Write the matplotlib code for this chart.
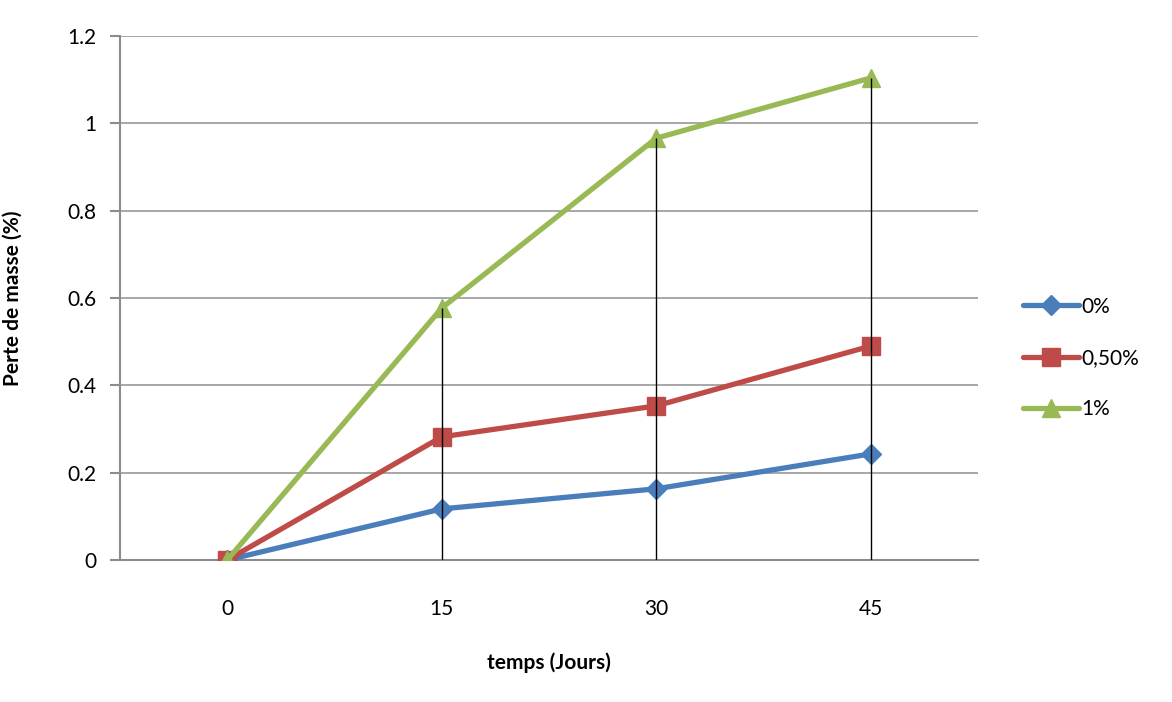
import matplotlib.pyplot as plt

plt.rcParams['font.family'] = ['Lato', 'DejaVu Sans']

days = ['0', '15', '30', '45']
loss_0 = [0.0, 0.117, 0.163, 0.243]
loss_050 = [0.0, 0.282, 0.353, 0.490]
loss_1 = [0.0, 0.577, 0.966, 1.104]
labels = ['0%', '0,50%', '1%']

colors = ['#4a7ebb', '#be4b48', '#98b954']
markers = ['D', 's', '^']
sizes = [10, 13, 13]

fig = plt.figure(figsize=(11.72, 7.02), dpi=100)
ax = fig.add_axes([0.1024, 0.2023, 0.7321, 0.7464])

xs = list(range(len(days)))
series = [loss_0, loss_050, loss_1]
for ys, c, m, ms, lab in zip(series, colors, markers, sizes, labels):
    ax.plot(xs, ys, color=c, lw=3.8, marker=m, ms=ms, label=lab,
            solid_capstyle='round', zorder=3)

# drop lines from the highest series down to the axis
tops = [max(v) for v in zip(*series)]
ax.vlines(xs, 0, tops, color='black', lw=1, zorder=4)

ax.set_xlim(-0.5, 3.5)
ax.set_ylim(0, 1.2)
ax.set_yticks([0, 0.2, 0.4, 0.6, 0.8, 1, 1.2])
ax.set_yticklabels(['0', '0.2', '0.4', '0.6', '0.8', '1', '1.2'])
ax.set_xticks(xs)
ax.set_xticklabels(days)
ax.yaxis.grid(True, color='#a0a0a0', lw=1.3)
ax.set_axisbelow(True)

for s in ['top', 'right']:
    ax.spines[s].set_visible(False)
for s in ['left', 'bottom']:
    ax.spines[s].set_color('#8c8c8c')
    ax.spines[s].set_linewidth(1.5)
ax.tick_params(axis='y', length=7, width=1.5, color='#8c8c8c', labelsize=15, pad=10)
ax.tick_params(axis='x', length=0, labelsize=15, pad=28)

ax.set_xlabel('temps (Jours)', fontsize=15, fontweight='bold', labelpad=24)
ax.set_ylabel('Perte de masse (%)', fontsize=15, fontweight='bold')
ax.yaxis.set_label_coords(-0.114, 0.5)

fig.legend(loc='center left', bbox_to_anchor=(0.857, 0.49), frameon=False,
           fontsize=15, handlelength=2.7, handletextpad=0.1, labelspacing=1.5)

fig.savefig('out.png', dpi=100)
